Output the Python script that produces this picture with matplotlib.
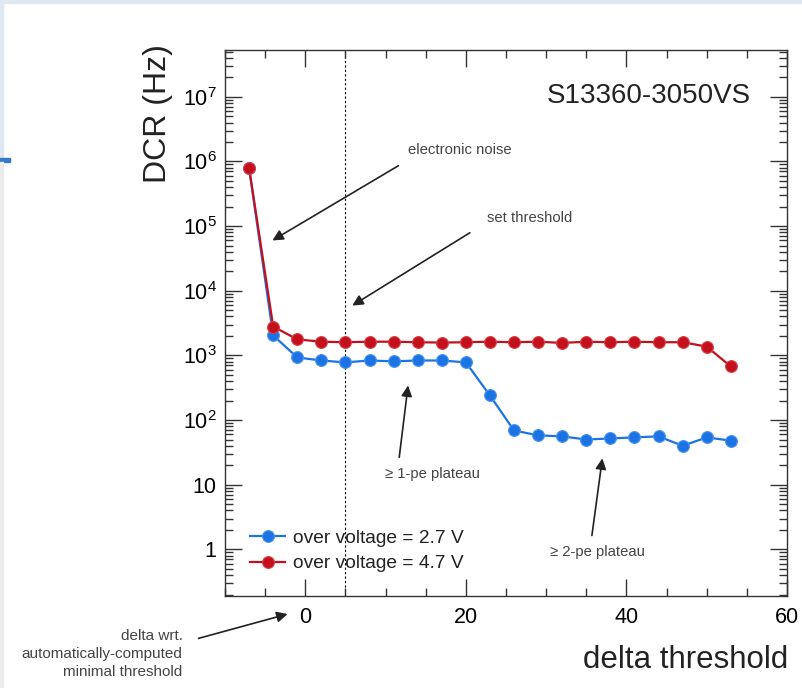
import math
import matplotlib
matplotlib.use("Agg")
import matplotlib.pyplot as plt
from matplotlib.patches import Rectangle
from matplotlib.ticker import LogLocator, MultipleLocator, FuncFormatter, NullFormatter

plt.rcParams['font.family'] = ['Liberation Sans', 'DejaVu Sans']
plt.rcParams['mathtext.fontset'] = 'custom'
plt.rcParams['mathtext.rm'] = 'Liberation Sans'

# delta threshold values
delta = [-7, -4, -1, 2, 5, 8, 11, 14, 17, 20, 23, 26, 29, 32, 35, 38, 41, 44, 47, 50, 53]
# dark count rate (Hz)
dcr_27 = [7.8e5, 2040, 930, 835, 780, 835, 810, 835, 835, 780, 240, 69,
          58, 56, 50, 52, 54, 56, 40, 54, 48]
dcr_47 = [8.0e5, 2800, 1770, 1630, 1600, 1630, 1630, 1600, 1580, 1600, 1630, 1600,
          1630, 1560, 1630, 1600, 1630, 1600, 1600, 1370, 675]
labels = ['over voltage = 2.7 V', 'over voltage = 4.7 V']
blue = '#1c74e4'
red = '#c4101c'

fig = plt.figure(figsize=(8.02, 6.88), dpi=100)
# slide frame around the picture
fig.patches.append(Rectangle((0, 0.995), 1, 0.005, transform=fig.transFigure, color='#dfe8f2', zorder=0))
fig.patches.append(Rectangle((0, 0.77), 0.004, 0.23, transform=fig.transFigure, color='#dfe8f2', zorder=0))
fig.patches.append(Rectangle((0, 0.765), 0.012, 0.005, transform=fig.transFigure, color='#3a78c8', zorder=0))
fig.patches.append(Rectangle((0, 0), 0.004, 0.765, transform=fig.transFigure, color='#ececec', zorder=0))

ax = fig.add_axes([225 / 802, 1 - 596 / 688, 562 / 802, 546 / 688])
ax.set_yscale('log')
ax.set_xlim(-10, 60)
ax.set_ylim(0.19, 5.3e7)

ax.axvline(5, color='black', lw=0.8, ls=(0, (2, 2)), zorder=1)

ax.plot(delta, dcr_27, '-o', color=blue, lw=1.6, ms=8.5, mec='#4a94f0', mew=0.8, label=labels[0], zorder=3)
ax.plot(delta, dcr_47, '-o', color=red, lw=1.6, ms=8.5, mec='#d84048', mew=0.8, label=labels[1], zorder=4)

# ticks, ROOT style
ax.xaxis.set_major_locator(MultipleLocator(20))
ax.xaxis.set_minor_locator(MultipleLocator(5))
ax.yaxis.set_major_locator(LogLocator(base=10, numticks=20))
ax.yaxis.set_minor_locator(LogLocator(base=10, subs=range(2, 10), numticks=20))
ax.yaxis.set_minor_formatter(NullFormatter())


def ylab(v, pos):
    if v < 0.5:
        return ''
    if v == 1:
        return '1'
    if v == 10:
        return '10'
    return r'$10^{%d}$' % round(math.log10(v))


ax.yaxis.set_major_formatter(FuncFormatter(ylab))
ax.tick_params(which='both', direction='in', top=True, right=True, color='#333333', width=1)
ax.tick_params(which='major', length=12, pad=6)
ax.tick_params(which='minor', length=6)
ax.tick_params(axis='y', which='major', labelsize=15.5)
ax.tick_params(axis='x', which='major', labelsize=15.5, pad=8)
for s in ax.spines.values():
    s.set_color('#333333')
    s.set_linewidth(1)

ax.text(0.935, 0.915, 'S13360-3050VS', transform=ax.transAxes, ha='right', va='center', fontsize=20, color='#222222')

leg = ax.legend(loc='upper left', bbox_to_anchor=(0.045, 0.122), frameon=False, fontsize=13.8,
                handlelength=1.8, handletextpad=0.45, labelspacing=0.42, borderaxespad=0, borderpad=0)
for t in leg.get_texts():
    t.set_color('#222222')

fig.text(788 / 802, 1 - 660 / 688, 'delta threshold', ha='right', va='center', fontsize=22.5, color='#222222')
fig.text(158 / 802, 1 - 44 / 688, 'DCR (Hz)', ha='center', va='top', rotation=90, fontsize=23, color='#222222')

# annotations
arrow = dict(arrowstyle='-|>', color='#222222', lw=1.2, mutation_scale=16, shrinkA=0, shrinkB=0)
note = dict(fontsize=10.7, color='#444444', ha='center', va='center')
ax.text(19.3, 1.5e6, 'electronic noise', **note)
ax.annotate('', xy=(-4.1, 6e4), xytext=(11.6, 8.6e5), arrowprops=arrow)
ax.text(27.9, 1.35e5, 'set threshold', **note)
ax.annotate('', xy=(5.85, 5.9e3), xytext=(20.5, 7.9e4), arrowprops=arrow)
ax.text(15.8, 14.4, '≥ 1-pe plateau', **note)
ax.annotate('', xy=(12.8, 343), xytext=(11.7, 26.5), arrowprops=arrow)
ax.text(36.4, 0.9, '≥ 2-pe plateau', **note)
ax.annotate('', xy=(37.0, 25.6), xytext=(35.7, 1.64), arrowprops=arrow)
ax.text(-15.3, 0.024, 'delta wrt.\nautomatically-computed\nminimal threshold', fontsize=11,
        color='#444444', ha='right', va='center', linespacing=1.4, clip_on=False)
ax.annotate('', xy=(-2.2, 0.1), xytext=(-13.3, 0.042), arrowprops=arrow, annotation_clip=False)

fig.savefig('out.png', dpi=100)
